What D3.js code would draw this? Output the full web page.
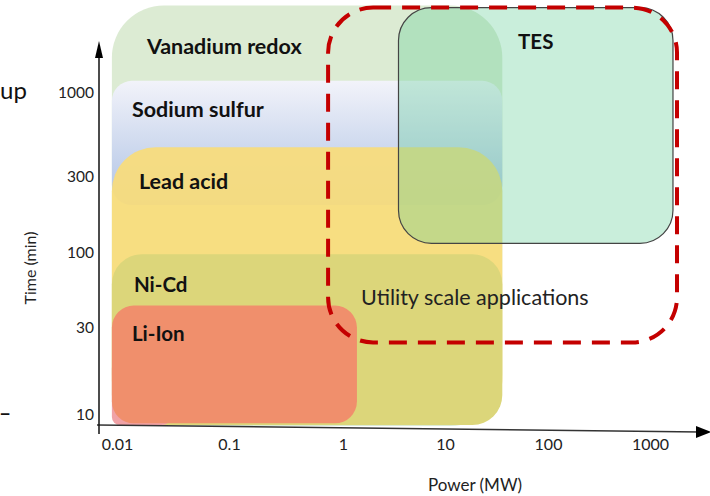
<!DOCTYPE html>
<html>
<head>
<meta charset="utf-8">
<script src="https://cdn.jsdelivr.net/npm/d3@7"></script>
<style>
  body { margin: 0; background: #fff; }
  text { font-family: Lato, "Open Sans", sans-serif; }
</style>
</head>
<body>
<div id="chart"></div>
<script>
// axis ticks
var powerTicks = [0.01, 0.1, 1, 10, 100, 1000];
var timeTicks = [10, 30, 100, 300, 1000];

// storage technologies, drawn back to front
var techNames = ["Vanadium redox", "Sodium sulfur", "Lead acid", "Ni-Cd", "", "Li-Ion", "TES"];
var powerMin  = [0.009, 0.009, 0.009, 0.009, 0.009, 0.009, 3.5];
var powerMax  = [36, 36, 36, 36, 0.03, 1.37, 1680];
var timeMin   = [8.7, 200, 8.8, 8.8, 8.8, 9.0, 115];
var timeMax   = [3500, 1190, 460, 98, 20, 43, 3400];

// utility scale envelope
var utilityName = "Utility scale applications";
var utilityPower = [0.74, 1840];
var utilityTime = [25, 3400];

function main() {
    var width = 710, height = 496;

    // hand-drawn axis: decades are not evenly spaced, so piecewise log
    var xScale = d3.scaleLog().domain(powerTicks).range([117, 229, 343, 445, 548, 650]);
    var yScale = d3.scaleLog().domain(timeTicks).range([415, 328, 253, 177, 93]);

    var fills = ["#dcebd3", "url(#nas)", "#f8dc7a", "#dcd67a", "#f0a2a6", "#f08f6c", "rgba(100,206,152,0.35)"];
    var radius = [52, 20, 44, 30, 8, 22, 33];
    var opac = [1, 1, 0.92, 1, 1, 1, 1];
    var labelDx = [35, 20, 27, 22, 0, 20, null];
    var labelDy = [48, 36, 42, 38, 0, 35, 41];
    var labelSize = [21.5, 21.5, 21.5, 20.5, 0, 20.5, 20.5];

    var svg = d3.select("#chart").append("svg")
        .attr("width", width)
        .attr("height", height);

    var grad = svg.append("defs").append("linearGradient")
        .attr("id", "nas")
        .attr("x1", 0).attr("y1", 0).attr("x2", 0).attr("y2", 1);
    grad.append("stop").attr("offset", "0%").attr("stop-color", "#f2f3fa");
    grad.append("stop").attr("offset", "100%").attr("stop-color", "#aec2e4");

    var idx = d3.range(techNames.length);

    svg.selectAll("rect.tech")
        .data(idx)
        .enter().append("rect")
        .attr("class", "tech")
        .attr("x", function(i) { return xScale(powerMin[i]); })
        .attr("y", function(i) { return yScale(timeMax[i]); })
        .attr("width", function(i) { return xScale(powerMax[i]) - xScale(powerMin[i]); })
        .attr("height", function(i) { return yScale(timeMin[i]) - yScale(timeMax[i]); })
        .attr("rx", function(i) { return radius[i]; })
        .attr("fill", function(i) { return fills[i]; })
        .attr("opacity", function(i) { return opac[i]; })
        .attr("stroke", function(i) { return techNames[i] == "TES" ? "#444" : "none"; })
        .attr("stroke-width", 1.2);

    svg.selectAll("text.tech")
        .data(idx.filter(function(i) { return techNames[i] != ""; }))
        .enter().append("text")
        .attr("class", "tech")
        .attr("x", function(i) {
            if (labelDx[i] == null) return (xScale(powerMin[i]) + xScale(powerMax[i])) / 2;
            return xScale(powerMin[i]) + labelDx[i];
        })
        .attr("y", function(i) { return yScale(timeMax[i]) + labelDy[i]; })
        .attr("text-anchor", function(i) { return labelDx[i] == null ? "middle" : "start"; })
        .style("font-size", function(i) { return labelSize[i] + "px"; })
        .style("font-weight", "bold")
        .attr("fill", "#111")
        .text(function(i) { return techNames[i]; });

    // dashed envelope
    svg.append("rect")
        .attr("x", xScale(utilityPower[0]))
        .attr("y", yScale(utilityTime[1]))
        .attr("width", xScale(utilityPower[1]) - xScale(utilityPower[0]))
        .attr("height", yScale(utilityTime[0]) - yScale(utilityTime[1]))
        .attr("rx", 45)
        .attr("fill", "none")
        .attr("stroke", "#c40000")
        .attr("stroke-width", 4)
        .attr("stroke-dasharray", "18,11");

    svg.append("text")
        .attr("x", xScale(utilityPower[0]) + 33)
        .attr("y", yScale(utilityTime[0]) - 37)
        .style("font-size", "21.5px")
        .attr("fill", "#222")
        .text(utilityName);

    // axes
    var xAxis = svg.append("g")
        .attr("transform", "translate(0,432)")
        .call(d3.axisBottom(xScale).tickValues(powerTicks).tickSize(0).tickPadding(7)
            .tickFormat(function(d) { return d; }));
    var yAxis = svg.append("g")
        .attr("transform", "translate(94,0)")
        .call(d3.axisLeft(yScale).tickValues(timeTicks).tickSize(0).tickPadding(0)
            .tickFormat(function(d) { return d; }));
    xAxis.select(".domain").remove();
    yAxis.select(".domain").remove();
    xAxis.selectAll("text").style("font-size", "16px").attr("fill", "#222")
        .style("font-family", "Lato, sans-serif");
    yAxis.selectAll("text").style("font-size", "15.5px").attr("fill", "#222")
        .style("font-family", "Lato, sans-serif");

    svg.append("line")
        .attr("x1", 97).attr("y1", 425).attr("x2", 700).attr("y2", 432)
        .attr("stroke", "#333").attr("stroke-width", 1.5);
    svg.append("path")
        .attr("d", "M711,432 L696,426 L696,438 Z")
        .attr("fill", "#000");
    svg.append("line")
        .attr("x1", 99).attr("y1", 434).attr("x2", 99).attr("y2", 50)
        .attr("stroke", "#111").attr("stroke-width", 1.5);
    svg.append("path")
        .attr("d", "M99,41 L95,58 L103,58 Z")
        .attr("fill", "#000");

    svg.append("text")
        .attr("x", 475).attr("y", 491)
        .attr("text-anchor", "middle")
        .style("font-size", "17px")
        .attr("fill", "#222")
        .text("Power (MW)");

    svg.append("text")
        .attr("transform", "translate(36,268) rotate(-90)")
        .attr("text-anchor", "middle")
        .style("font-size", "16px")
        .attr("fill", "#222")
        .text("Time (min)");

    // bits of the slide left at the left edge
    svg.append("text")
        .attr("x", 0).attr("y", 99)
        .style("font-size", "24px")
        .attr("fill", "#111")
        .text("up");
    svg.append("text")
        .attr("x", -1).attr("y", 420)
        .style("font-size", "21px")
        .style("font-weight", "bold")
        .attr("fill", "#111")
        .text("–");
}

main();
</script>
</body>
</html>
